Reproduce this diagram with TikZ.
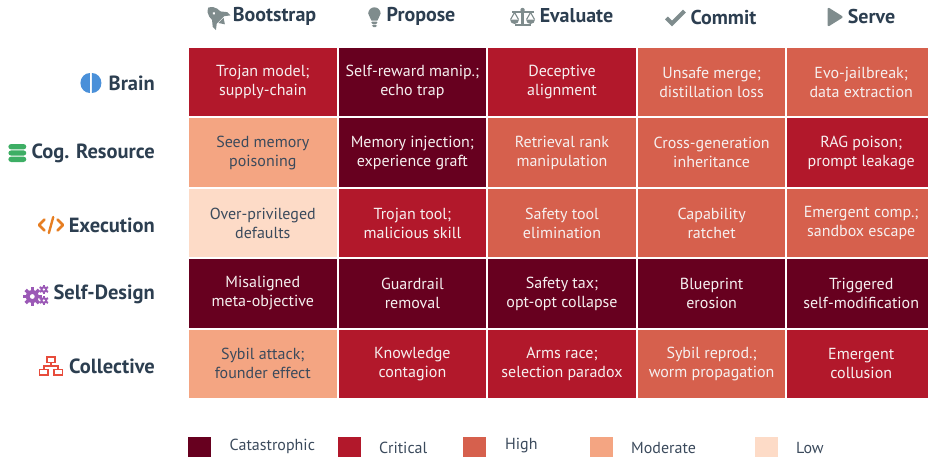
\documentclass[tikz,border=0pt]{standalone}
\usepackage{fontspec}
\setmainfont{PT Sans}
\definecolor{cCat}{HTML}{67001F}
\definecolor{cCrit}{HTML}{B2182B}
\definecolor{cHigh}{HTML}{D6604D}
\definecolor{cMod}{HTML}{F4A582}
\definecolor{cLow}{HTML}{FDDBC7}
\definecolor{darkText}{HTML}{2C3E50}
\definecolor{cellDark}{HTML}{3B4A5C}
\definecolor{iconGray}{HTML}{7F8C8D}
\definecolor{brainBlue}{HTML}{4A90D9}
\definecolor{resGreen}{HTML}{3DAE64}
\definecolor{execOrange}{HTML}{E67E22}
\definecolor{designPurple}{HTML}{9B59B6}
\definecolor{collRed}{HTML}{E74C3C}
\definecolor{lightText}{HTML}{F6F0F0}
\tikzset{
  cell/.style={minimum width=147.6pt, minimum height=68.4pt, inner sep=0pt, align=center,
    font=\fontsize{16}{19}\selectfont},
  lvCat/.style={cell, fill=cCat, text=lightText},
  lvCrit/.style={cell, fill=cCrit, text=lightText},
  lvHigh/.style={cell, fill=cHigh, text=lightText},
  lvMod/.style={cell, fill=cMod, text=cellDark},
  lvLow/.style={cell, fill=cLow, text=cellDark},
  colhead/.style={font=\fontsize{20}{24}\selectfont\bfseries, text=darkText, inner sep=0pt},
  rowhead/.style={font=\fontsize{20.5}{24}\selectfont\bfseries, text=darkText, inner sep=0pt, anchor=east},
  legsq/.style={minimum width=23pt, minimum height=20pt, inner sep=0pt},
  legtext/.style={font=\fontsize{16}{19}\selectfont, text=cellDark, anchor=west, inner sep=0pt},
  % icons (pixel units, y pointing down)
  rocketicon/.pic={
    \begin{scope}[rotate=45, scale=1.15, fill=iconGray]
      \fill (0,-11.5) .. controls (6,-8.5) and (5.5,-3) .. (4.8,3.5) -- (-4.8,3.5) .. controls (-5.5,-3) and (-6,-8.5) .. (0,-11.5) -- cycle;
      \fill (4.5,-2.5) -- (9,3) -- (9,7) -- (4.5,3.5) -- cycle;
      \fill (-4.5,-2.5) -- (-9,3) -- (-9,7) -- (-4.5,3.5) -- cycle;
      \fill (-3.2,4.2) -- (3.2,4.2) -- (0,9) -- cycle;
      \fill[white] (0,-4.5) circle (1.2);
    \end{scope}
  },
  bulbicon/.pic={
    \fill[iconGray] (-3,3.5) .. controls (-3,1) and (-6.2,-0.5) .. (-6.2,-3.5)
      arc[start angle=180, end angle=360, radius=6.2]
      .. controls (6.2,-0.5) and (3,1) .. (3,3.5) -- cycle;
    \fill[iconGray, rounded corners=1pt] (-3,4.5) rectangle (3,6.8);
    \fill[iconGray, rounded corners=1.5pt] (-2.6,7.6) rectangle (2.6,10);
  },
  scaleicon/.pic={
    \fill[iconGray] (-1.2,-6) rectangle (1.2,6.5);
    \fill[iconGray] (0,-7) circle (2.2);
    \fill[iconGray] (-8,6.5) rectangle (8,8.8);
    \fill[iconGray] (-11,-5.6) rectangle (11,-3.8);
    \draw[iconGray, line width=1.1pt] (-12,2.5) -- (-8,-4.5) -- (-4,2.5);
    \draw[iconGray, line width=1.1pt] (12,2.5) -- (8,-4.5) -- (4,2.5);
    \fill[iconGray] (-12.5,2.5) arc[start angle=180, end angle=0, radius=4.5] -- cycle;
    \fill[iconGray] (3.5,2.5) arc[start angle=180, end angle=0, radius=4.5] -- cycle;
  },
  checkicon/.pic={
    \draw[iconGray, line width=4pt, line cap=butt, line join=miter] (-9,0.5) -- (-3.5,6) -- (9,-6.5);
  },
  playicon/.pic={
    \fill[iconGray, rounded corners=1.5pt] (-7,-10) -- (9,0) -- (-7,10) -- cycle;
  },
  brainicon/.pic={
    \fill[brainBlue] (-1,-10) arc[start angle=270, end angle=90, x radius=9.5, y radius=10] -- cycle;
    \fill[brainBlue] (1,-10) arc[start angle=270, end angle=450, x radius=9.5, y radius=10] -- cycle;
  },
  dbicon/.pic={
    \fill[resGreen, rounded corners=2.8pt] (-9,-9) rectangle (9,-3.6);
    \fill[resGreen, rounded corners=2.8pt] (-9,-2.6) rectangle (9,2.6);
    \fill[resGreen, rounded corners=2.8pt] (-9,3.6) rectangle (9,9);
  },
  codeicon/.pic={
    \draw[execOrange, line width=2.6pt, line cap=round, line join=round] (-6.5,-5.5) -- (-12,0) -- (-6.5,5.5);
    \draw[execOrange, line width=2.6pt, line cap=round, line join=round] (6.5,-5.5) -- (12,0) -- (6.5,5.5);
    \draw[execOrange, line width=2.4pt, line cap=round] (-2.2,8) -- (2.2,-8);
  },
  cogsicon/.pic={
    \begin{scope}[fill=designPurple]
      \fill (-4,2) circle (6.5);
      \foreach \a in {0,45,...,315} { \fill[rotate around={\a:(-4,2)}] (-5.7,-7.4) rectangle (-2.3,2); }
      \fill[white] (-4,2) circle (2.4);
      \foreach \cy in {-5,6} {
        \fill (7.5,\cy) circle (3.4);
        \foreach \a in {0,60,...,300} { \fill[rotate around={\a:(7.5,\cy)}] (6.5,\cy-4.8) rectangle (8.5,\cy); }
        \fill[white] (7.5,\cy) circle (1.3);
      }
    \end{scope}
  },
  siteicon/.pic={
    \begin{scope}[draw=collRed, line width=1.8pt]
      \draw (-4,-9) rectangle (4,-3.5);
      \draw (-11.5,3.5) rectangle (-3,9);
      \draw (3,3.5) rectangle (11.5,9);
      \draw (0,-3.5) -- (0,0) (-7.25,3.5) -- (-7.25,0) -- (7.25,0) -- (7.25,3.5);
    \end{scope}
  }
}
\begin{document}
\begin{tikzpicture}[x=1pt,y=-1pt]
\useasboundingbox (0,0) rectangle (928,458);
\clip (0,0) rectangle (928,458);
% column headers
\node[colhead] (hBoot) at (274.5,16) {Bootstrap};
\node[colhead] (hProp) at (421,16) {Propose};
\node[colhead] (hEval) at (576.5,16) {Evaluate};
\node[colhead] (hComm) at (723.5,17.5) {Commit};
\node[colhead] (hServ) at (871.5,16) {Serve};
\path ([xshift=-15pt,yshift=-1pt]hBoot.west) pic {rocketicon};
\path ([xshift=-12pt,yshift=-1pt]hProp.west) pic {bulbicon};
\path ([xshift=-17pt,yshift=-1pt]hEval.west) pic {scaleicon};
\path ([xshift=-15pt]hComm.west) pic {checkicon};
\path ([xshift=-13pt,yshift=-1pt]hServ.west) pic {playicon};
% row headers
\node[rowhead] (rBrain) at (155,83) {Brain};
\node[rowhead] (rRes) at (155,153) {Cog. Resource};
\node[rowhead] (rExec) at (155,225) {Execution};
\node[rowhead] (rDes) at (155,294.5) {Self-Design};
\node[rowhead] (rColl) at (155,366) {Collective};
\path ([xshift=-17.5pt]rBrain.west) pic {brainicon};
\path ([xshift=-14pt]rRes.west) pic {dbicon};
\path ([xshift=-17.5pt]rExec.west) pic {codeicon};
\path ([xshift=-17pt]rDes.west) pic {cogsicon};
\path ([xshift=-18pt]rColl.west) pic {siteicon};
% row 1
\node[lvCrit] (c11) at (262.8,82.2) {Trojan model;\\supply-chain};
\node[lvCat]  (c12) at (412.4,82.2) {Self-reward manip.;\\echo trap};
\node[lvCrit] (c13) at (562,82.2) {Deceptive\\alignment};
\node[lvHigh] (c14) at (711.6,82.2) {Unsafe merge;\\distillation loss};
\node[lvHigh] (c15) at (861.2,82.2) {Evo-jailbreak;\\data extraction};
% row 2
\node[lvMod]  (c21) at (262.8,152.6) {Seed memory\\poisoning};
\node[lvCat]  (c22) at (412.4,152.6) {Memory injection;\\experience graft};
\node[lvHigh] (c23) at (562,152.6) {Retrieval rank\\manipulation};
\node[lvHigh] (c24) at (711.6,152.6) {Cross-generation\\inheritance};
\node[lvCrit] (c25) at (861.2,152.6) {RAG poison;\\prompt leakage};
% row 3
\node[lvLow]  (c31) at (262.8,223) {Over-privileged\\defaults};
\node[lvCrit] (c32) at (412.4,223) {Trojan tool;\\malicious skill};
\node[lvHigh] (c33) at (562,223) {Safety tool\\elimination};
\node[lvHigh] (c34) at (711.6,223) {Capability\\ratchet};
\node[lvHigh] (c35) at (861.2,223) {Emergent comp.;\\sandbox escape};
% row 4
\node[lvCat] (c41) at (262.8,293.4) {Misaligned\\meta-objective};
\node[lvCat] (c42) at (412.4,293.4) {Guardrail\\removal};
\node[lvCat] (c43) at (562,293.4) {Safety tax;\\opt-opt collapse};
\node[lvCat] (c44) at (711.6,293.4) {Blueprint\\erosion};
\node[lvCat] (c45) at (861.2,293.4) {Triggered\\self-modification};
% row 5
\node[lvMod]  (c51) at (262.8,363.8) {Sybil attack;\\founder effect};
\node[lvCrit] (c52) at (412.4,363.8) {Knowledge\\contagion};
\node[lvCrit] (c53) at (562,363.8) {Arms race;\\selection paradox};
\node[lvHigh] (c54) at (711.6,363.8) {Sybil reprod.;\\worm propagation};
\node[lvCrit] (c55) at (861.2,363.8) {Emergent\\collusion};
% legend
\node[legsq, fill=cCat]  (q1) at (199.5,447) {};
\node[legtext] (t1) at (229.5,446) {Catastrophic};
\node[legsq, fill=cCrit] (q2) at (349,447) {};
\node[legtext] (t2) at (379,448) {Critical};
\node[legsq, fill=cHigh] (q3) at (474.5,447) {};
\node[legtext] (t3) at (505,446) {High};
\node[legsq, fill=cMod]  (q4) at (601.5,447) {};
\node[legtext] (t4) at (631,448) {Moderate};
\node[legsq, fill=cLow]  (q5) at (766.5,447) {};
\node[legtext] (t5) at (796,448) {Low};
\end{tikzpicture}
\end{document}
